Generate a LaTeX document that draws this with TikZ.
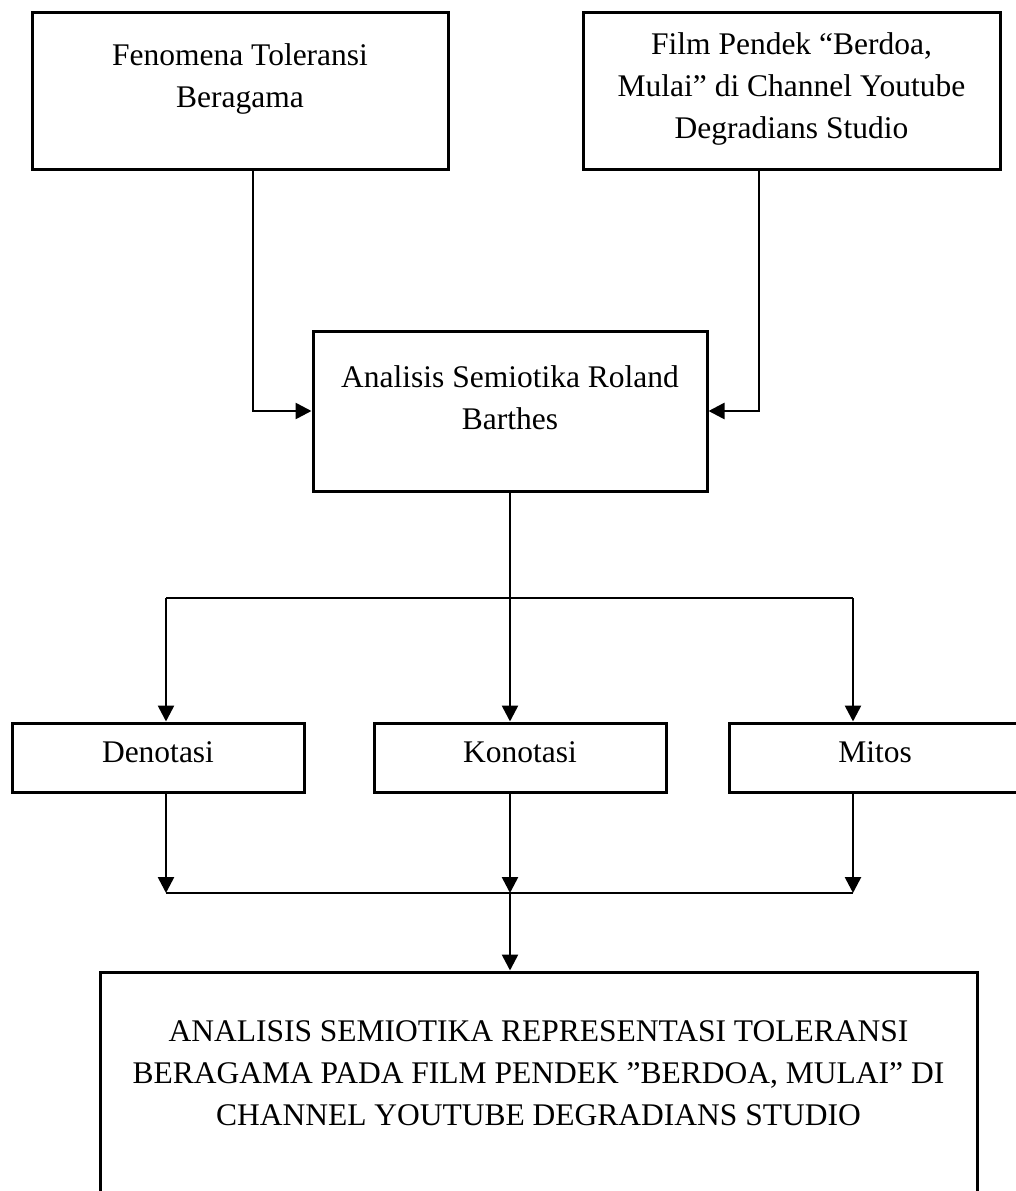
\documentclass[tikz,border=0pt]{standalone}
\usepackage{fontspec}
\setmainfont{Liberation Serif}
\usetikzlibrary{arrows.meta}
\tikzset{
  kotak/.style={draw, line width=3pt, rectangle, inner sep=0pt, align=center,
    font=\fontsize{31.5}{42}\selectfont},
  kecil/.style={kotak, minimum width=292pt, minimum height=69pt, text height=21pt, text depth=12pt},
  panah/.style={line width=2.6pt, -{Triangle[length=16pt,width=16pt]}},
  garis/.style={line width=1.6pt},
}
\begin{document}
\begin{tikzpicture}[x=1pt,y=-1pt]
\useasboundingbox (0,0) rectangle (1015,1191);

\node[kotak, minimum width=416pt, minimum height=157pt, text depth=29pt] (fenomena) at (240,90.5) {Fenomena Toleransi\\Beragama};
\node[kotak, minimum width=417pt, minimum height=157pt, text depth=9pt] (film) at (791.5,90.5) {Film Pendek “Berdoa,\\Mulai” di Channel Youtube\\Degradians Studio};
\node[kotak, minimum width=394pt, minimum height=160pt, text depth=27pt] (analisis) at (510,411) {Analisis Semiotika Roland\\Barthes};

\node[kecil] (denotasi) at (158,757.5) {Denotasi};
\node[kecil] (konotasi) at (520,757.5) {Konotasi};
\node[kecil] (mitos) at (875,757.5) {Mitos};

\node[kotak, minimum width=877pt, minimum height=228pt, text depth=26pt] (hasil) at (538.5,1086) {ANALISIS SEMIOTIKA REPRESENTASI TOLERANSI\\BERAGAMA PADA FILM PENDEK ”BERDOA, MULAI” DI\\CHANNEL YOUTUBE DEGRADIANS STUDIO};

\coordinate (bl) at (166,598);
\coordinate (br) at (853,598);
\coordinate (jl) at (166,893);
\coordinate (jr) at (853,893);
\coordinate (jm) at (analisis.south |- jl);

\draw[panah] ([xshift=13pt]fenomena.south) |- (analisis);
\draw[panah] ([xshift=-32.5pt]film.south) |- (analisis);

\draw[garis] (bl) -- (br);
\draw[panah] (analisis.south) -- (analisis.south |- konotasi.north);
\draw[panah] (bl) -- (bl |- denotasi.north);
\draw[panah] (br) -- (br |- mitos.north);

\draw[panah] (denotasi.south -| jl) -- (jl);
\draw[panah] (konotasi.south -| jm) -- (jm);
\draw[panah] (mitos.south -| jr) -- (jr);
\draw[garis] (jl) -- (jr);
\draw[panah] (jm) -- (hasil.north -| jm);
\end{tikzpicture}
\end{document}
